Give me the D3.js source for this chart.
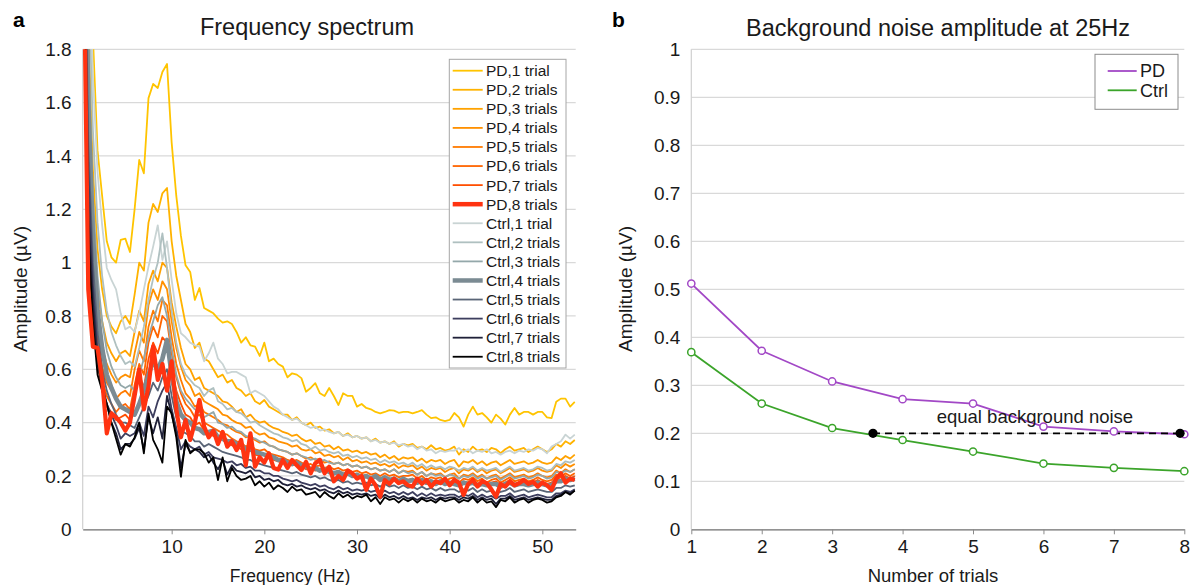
<!DOCTYPE html>
<html><head><meta charset="utf-8">
<script src="https://cdn.jsdelivr.net/npm/d3@7"></script>
<style>
html,body{margin:0;padding:0;background:#fff;}
svg{display:block;font-family:"Liberation Sans",Arial,Helvetica,sans-serif;}
</style></head>
<body>
<svg id="chart" width="1197" height="585"></svg>
<script>
// ---------- Panel a data: frequency spectrum ----------
const freqs = [0.5,1,1.5,2,2.5,3,3.5,4,4.5,5,5.5,6,6.5,7,7.5,8,8.5,9,9.5,10,
10.5,11,11.5,12,12.5,13,13.5,14,14.5,15,15.5,16,16.5,17,17.5,18,18.5,19,19.5,20,
20.5,21,21.5,22,22.5,23,23.5,24,24.5,25,25.5,26,26.5,27,27.5,28,28.5,29,29.5,30,
30.5,31,31.5,32,32.5,33,33.5,34,34.5,35,35.5,36,36.5,37,37.5,38,38.5,39,39.5,40,
40.5,41,41.5,42,42.5,43,43.5,44,44.5,45,45.5,46,46.5,47,47.5,48,48.5,49,49.5,50,
50.5,51,51.5,52,52.5,53,53.5];

const pd1 = [3.0,2.4,1.85,1.42,1.25,1.08,1.02,1.0,1.085,1.09,
1.04,1.2,1.385,1.335,1.617,1.67,1.655,1.715,1.745,1.45,
1.25,1.1,0.99,0.965,0.86,0.905,0.83,0.82,0.81,0.79,
0.775,0.78,0.77,0.74,0.70,0.72,0.69,0.685,0.65,0.70,
0.63,0.64,0.62,0.61,0.57,0.585,0.58,0.567,0.516,0.53,
0.548,0.51,0.50,0.53,0.50,0.466,0.51,0.50,0.5,0.46,
0.47,0.455,0.45,0.44,0.435,0.44,0.447,0.445,0.437,0.44,
0.44,0.435,0.44,0.447,0.43,0.417,0.42,0.41,0.406,0.41,
0.436,0.42,0.385,0.43,0.46,0.43,0.436,0.42,0.40,0.43,
0.415,0.393,0.43,0.455,0.43,0.44,0.44,0.43,0.44,0.44,
0.42,0.417,0.478,0.49,0.49,0.46,0.478];
const pd2 = [2.8,1.9,1.35,1.05,0.9,0.8,0.76,0.735,0.78,0.80,
0.77,0.88,1.0,0.97,1.15,1.22,1.19,1.26,1.28,1.08,
0.95,0.86,0.77,0.74,0.68,0.70,0.64,0.63,0.60,0.57,
0.58,0.55,0.56,0.53,0.52,0.50,0.51,0.48,0.47,0.485,
0.46,0.45,0.44,0.43,0.43,0.41,0.42,0.40,0.39,0.40,
0.38,0.385,0.37,0.375,0.36,0.365,0.35,0.36,0.345,0.35,
0.34,0.345,0.33,0.34,0.325,0.33,0.32,0.33,0.31,0.32,
0.315,0.32,0.305,0.31,0.30,0.315,0.30,0.305,0.295,0.30,
0.31,0.28,0.30,0.29,0.31,0.295,0.30,0.29,0.305,0.30,
0.285,0.30,0.31,0.295,0.30,0.305,0.29,0.30,0.31,0.30,
0.29,0.30,0.32,0.31,0.33,0.32,0.335];
const pd3 = [2.6,1.6,1.15,0.9,0.78,0.7,0.66,0.63,0.66,0.67,
0.65,0.74,0.82,0.78,0.92,0.97,0.93,1.0,0.98,0.85,
0.76,0.68,0.62,0.60,0.56,0.57,0.53,0.52,0.51,0.50,
0.48,0.475,0.46,0.44,0.45,0.42,0.43,0.41,0.40,0.405,
0.39,0.38,0.375,0.365,0.36,0.35,0.355,0.34,0.33,0.335,
0.32,0.325,0.31,0.315,0.30,0.31,0.295,0.30,0.29,0.295,
0.285,0.29,0.28,0.285,0.27,0.28,0.265,0.275,0.26,0.27,
0.265,0.27,0.255,0.265,0.25,0.26,0.255,0.26,0.245,0.255,
0.26,0.235,0.255,0.25,0.26,0.245,0.255,0.24,0.25,0.255,
0.24,0.25,0.26,0.245,0.25,0.255,0.245,0.25,0.26,0.25,
0.245,0.25,0.27,0.26,0.275,0.265,0.28];
const pd4 = [2.5,1.45,1.02,0.8,0.68,0.62,0.58,0.55,0.57,0.58,
0.57,0.66,0.74,0.70,0.84,0.90,0.86,0.93,0.90,0.78,
0.68,0.61,0.56,0.54,0.50,0.51,0.48,0.47,0.46,0.45,
0.43,0.425,0.41,0.40,0.395,0.38,0.385,0.365,0.355,0.36,
0.345,0.34,0.33,0.325,0.32,0.31,0.315,0.30,0.295,0.30,
0.285,0.29,0.275,0.28,0.27,0.275,0.26,0.27,0.255,0.26,
0.25,0.255,0.245,0.25,0.24,0.245,0.235,0.245,0.23,0.24,
0.235,0.24,0.225,0.235,0.22,0.23,0.225,0.23,0.215,0.225,
0.23,0.21,0.225,0.22,0.23,0.215,0.225,0.21,0.22,0.225,
0.21,0.22,0.23,0.215,0.22,0.225,0.215,0.22,0.23,0.22,
0.215,0.22,0.24,0.23,0.245,0.235,0.245];
const pd5 = [2.4,1.3,0.92,0.72,0.61,0.55,0.52,0.49,0.51,0.52,
0.50,0.60,0.67,0.63,0.76,0.82,0.78,0.86,0.84,0.72,
0.62,0.56,0.51,0.49,0.46,0.47,0.44,0.43,0.42,0.41,
0.395,0.39,0.375,0.365,0.36,0.345,0.35,0.335,0.325,0.33,
0.315,0.31,0.30,0.295,0.29,0.28,0.285,0.275,0.265,0.27,
0.26,0.265,0.25,0.255,0.245,0.25,0.24,0.245,0.235,0.24,
0.23,0.235,0.225,0.23,0.22,0.225,0.215,0.225,0.21,0.22,
0.215,0.22,0.205,0.215,0.20,0.21,0.205,0.21,0.195,0.205,
0.21,0.19,0.205,0.20,0.21,0.195,0.205,0.19,0.20,0.205,
0.19,0.20,0.21,0.195,0.20,0.205,0.195,0.20,0.21,0.20,
0.195,0.20,0.22,0.21,0.225,0.215,0.225];
const pd6 = [2.3,1.2,0.85,0.66,0.56,0.50,0.47,0.44,0.46,0.47,
0.45,0.54,0.62,0.58,0.70,0.76,0.72,0.80,0.78,0.66,
0.57,0.51,0.47,0.45,0.42,0.43,0.40,0.39,0.38,0.37,
0.36,0.355,0.34,0.33,0.325,0.31,0.32,0.30,0.295,0.30,
0.285,0.28,0.275,0.27,0.26,0.255,0.26,0.25,0.24,0.245,
0.235,0.24,0.23,0.235,0.225,0.23,0.22,0.225,0.215,0.22,
0.21,0.215,0.205,0.21,0.20,0.21,0.20,0.205,0.195,0.20,
0.20,0.205,0.19,0.20,0.185,0.195,0.19,0.195,0.18,0.19,
0.195,0.175,0.19,0.185,0.195,0.18,0.19,0.175,0.185,0.19,
0.175,0.185,0.195,0.18,0.185,0.19,0.18,0.185,0.195,0.185,
0.18,0.185,0.205,0.195,0.21,0.2,0.21];
const pd7 = [2.2,1.1,0.78,0.62,0.52,0.46,0.44,0.41,0.42,0.43,
0.41,0.50,0.58,0.53,0.64,0.70,0.66,0.72,0.70,0.60,
0.52,0.47,0.43,0.42,0.39,0.40,0.37,0.36,0.35,0.345,
0.335,0.33,0.315,0.31,0.30,0.29,0.295,0.28,0.275,0.28,
0.265,0.26,0.255,0.25,0.245,0.24,0.245,0.235,0.225,0.23,
0.22,0.225,0.215,0.22,0.21,0.215,0.205,0.21,0.20,0.205,
0.195,0.20,0.19,0.195,0.185,0.195,0.185,0.19,0.18,0.19,
0.185,0.19,0.175,0.185,0.17,0.18,0.175,0.18,0.17,0.175,
0.18,0.165,0.18,0.175,0.185,0.17,0.18,0.165,0.175,0.18,
0.165,0.175,0.185,0.17,0.175,0.18,0.17,0.175,0.185,0.175,
0.17,0.175,0.195,0.185,0.2,0.19,0.2];
const pd8 = [2.2,0.9,0.685,0.68,0.56,0.36,0.435,0.42,0.40,0.37,
0.40,0.50,0.60,0.45,0.535,0.685,0.56,0.62,0.52,0.63,
0.45,0.345,0.41,0.335,0.40,0.485,0.385,0.345,0.37,0.32,
0.365,0.31,0.33,0.297,0.335,0.24,0.36,0.235,0.27,0.25,
0.285,0.23,0.224,0.26,0.23,0.26,0.24,0.222,0.253,0.21,
0.248,0.26,0.21,0.235,0.18,0.20,0.185,0.22,0.21,0.19,
0.20,0.148,0.19,0.165,0.122,0.185,0.17,0.19,0.173,0.18,
0.165,0.16,0.19,0.17,0.185,0.16,0.18,0.173,0.19,0.165,
0.185,0.175,0.129,0.17,0.185,0.16,0.18,0.173,0.15,0.122,
0.17,0.16,0.18,0.165,0.173,0.185,0.17,0.178,0.16,0.175,
0.165,0.148,0.19,0.21,0.175,0.19,0.185];

const ctrl1 = [3.0,2.3,1.7,1.34,1.14,0.98,0.935,0.9,0.81,0.75,
0.76,0.74,0.81,0.9,0.985,1.06,1.14,1.01,1.08,0.935,
0.81,0.735,0.72,0.70,0.69,0.685,0.63,0.66,0.70,0.64,
0.62,0.585,0.59,0.59,0.58,0.57,0.51,0.52,0.51,0.50,
0.48,0.46,0.45,0.43,0.42,0.41,0.415,0.40,0.39,0.38,
0.385,0.37,0.375,0.365,0.36,0.365,0.35,0.355,0.345,0.35,
0.34,0.345,0.33,0.335,0.325,0.33,0.32,0.325,0.315,0.32,
0.31,0.315,0.30,0.31,0.295,0.30,0.285,0.295,0.29,0.295,
0.295,0.305,0.29,0.30,0.285,0.295,0.29,0.30,0.285,0.29,
0.28,0.29,0.295,0.285,0.295,0.29,0.30,0.295,0.305,0.30,
0.285,0.31,0.32,0.33,0.355,0.34,0.355];
const ctrl2 = [2.9,2.1,1.5,1.15,0.95,0.82,0.74,0.69,0.65,0.62,
0.63,0.61,0.68,0.76,0.86,0.94,1.0,1.11,0.98,0.82,
0.70,0.62,0.58,0.56,0.54,0.53,0.50,0.52,0.53,0.48,
0.47,0.45,0.455,0.44,0.435,0.42,0.40,0.405,0.39,0.38,
0.37,0.36,0.355,0.345,0.34,0.33,0.335,0.32,0.315,0.30,
0.31,0.295,0.30,0.29,0.285,0.29,0.275,0.28,0.27,0.275,
0.265,0.27,0.26,0.265,0.25,0.26,0.25,0.255,0.245,0.25,
0.24,0.25,0.235,0.245,0.23,0.24,0.23,0.235,0.225,0.235,
0.23,0.22,0.23,0.225,0.235,0.22,0.23,0.22,0.225,0.23,
0.215,0.225,0.235,0.22,0.225,0.23,0.22,0.225,0.235,0.23,
0.22,0.225,0.245,0.24,0.255,0.25,0.26];
const ctrl3 = [2.8,1.8,1.25,0.95,0.78,0.67,0.61,0.57,0.54,0.53,
0.54,0.52,0.58,0.64,0.72,0.78,0.84,0.87,0.80,0.68,
0.58,0.52,0.49,0.47,0.45,0.44,0.42,0.43,0.44,0.40,
0.395,0.38,0.385,0.37,0.365,0.35,0.345,0.34,0.33,0.325,
0.315,0.31,0.30,0.295,0.29,0.28,0.285,0.275,0.27,0.26,
0.265,0.255,0.26,0.25,0.245,0.25,0.24,0.245,0.235,0.24,
0.23,0.235,0.225,0.23,0.22,0.225,0.215,0.225,0.21,0.22,
0.21,0.215,0.205,0.215,0.20,0.21,0.20,0.205,0.195,0.205,
0.20,0.19,0.20,0.195,0.205,0.19,0.20,0.19,0.195,0.20,
0.185,0.195,0.205,0.19,0.195,0.20,0.19,0.195,0.205,0.20,
0.19,0.195,0.215,0.21,0.22,0.215,0.225];
const ctrl4 = [2.7,1.6,1.1,0.82,0.68,0.58,0.53,0.49,0.46,0.45,
0.44,0.43,0.47,0.52,0.58,0.63,0.60,0.64,0.71,0.58,
0.48,0.43,0.41,0.40,0.38,0.375,0.36,0.365,0.37,0.345,
0.34,0.33,0.33,0.32,0.315,0.30,0.30,0.29,0.285,0.28,
0.275,0.27,0.26,0.26,0.25,0.245,0.25,0.24,0.235,0.225,
0.23,0.22,0.225,0.215,0.21,0.215,0.205,0.21,0.20,0.205,
0.195,0.20,0.19,0.20,0.185,0.195,0.185,0.19,0.18,0.19,
0.18,0.185,0.175,0.185,0.175,0.18,0.17,0.18,0.17,0.175,
0.17,0.165,0.175,0.17,0.175,0.165,0.17,0.165,0.17,0.17,
0.16,0.17,0.175,0.165,0.17,0.17,0.165,0.17,0.175,0.17,
0.165,0.165,0.18,0.18,0.19,0.185,0.19];
const ctrl5 = [2.6,1.45,1.0,0.74,0.6,0.52,0.47,0.43,0.40,0.40,
0.39,0.38,0.42,0.46,0.50,0.55,0.52,0.57,0.60,0.50,
0.42,0.37,0.36,0.35,0.33,0.33,0.31,0.32,0.31,0.30,
0.29,0.285,0.28,0.275,0.27,0.26,0.26,0.25,0.245,0.24,
0.235,0.23,0.225,0.22,0.215,0.21,0.215,0.205,0.20,0.195,
0.20,0.19,0.195,0.185,0.18,0.185,0.175,0.18,0.17,0.175,
0.17,0.175,0.165,0.17,0.16,0.17,0.16,0.165,0.155,0.165,
0.155,0.16,0.15,0.16,0.15,0.155,0.145,0.155,0.145,0.15,
0.15,0.14,0.15,0.145,0.155,0.14,0.15,0.14,0.145,0.135,
0.14,0.145,0.155,0.14,0.145,0.15,0.14,0.145,0.15,0.145,
0.14,0.14,0.155,0.155,0.165,0.16,0.165];
const ctrl6 = [2.5,1.35,0.92,0.67,0.55,0.47,0.43,0.39,0.34,0.36,
0.35,0.36,0.40,0.35,0.46,0.42,0.48,0.52,0.55,0.45,
0.38,0.30,0.33,0.31,0.30,0.31,0.28,0.29,0.27,0.265,
0.26,0.25,0.255,0.24,0.245,0.23,0.235,0.22,0.22,0.21,
0.21,0.20,0.20,0.19,0.185,0.18,0.185,0.175,0.17,0.165,
0.17,0.16,0.165,0.155,0.15,0.16,0.15,0.155,0.145,0.15,
0.145,0.15,0.14,0.145,0.135,0.145,0.135,0.14,0.13,0.14,
0.13,0.14,0.125,0.135,0.125,0.135,0.125,0.13,0.125,0.13,
0.13,0.12,0.13,0.125,0.135,0.12,0.13,0.12,0.125,0.115,
0.125,0.125,0.135,0.12,0.125,0.13,0.12,0.125,0.13,0.125,
0.12,0.12,0.135,0.135,0.145,0.14,0.15];
const ctrl7 = [2.4,1.2,0.85,0.62,0.53,0.47,0.40,0.36,0.30,0.32,
0.32,0.34,0.38,0.30,0.42,0.36,0.42,0.34,0.50,0.43,
0.36,0.23,0.32,0.29,0.30,0.29,0.27,0.28,0.25,0.225,
0.26,0.205,0.24,0.22,0.215,0.21,0.22,0.195,0.20,0.185,
0.19,0.18,0.185,0.17,0.165,0.17,0.16,0.165,0.155,0.15,
0.155,0.145,0.15,0.14,0.135,0.145,0.135,0.14,0.13,0.135,
0.13,0.135,0.125,0.13,0.115,0.13,0.12,0.125,0.115,0.125,
0.115,0.12,0.11,0.12,0.115,0.12,0.11,0.12,0.115,0.12,
0.12,0.11,0.12,0.115,0.125,0.11,0.12,0.11,0.115,0.095,
0.115,0.115,0.125,0.11,0.115,0.12,0.11,0.115,0.12,0.115,
0.11,0.11,0.125,0.13,0.14,0.135,0.145];
const ctrl8 = [2.3,1.1,0.78,0.58,0.52,0.47,0.40,0.34,0.28,0.32,
0.31,0.345,0.40,0.285,0.435,0.335,0.30,0.25,0.46,0.435,
0.345,0.197,0.335,0.285,0.30,0.30,0.285,0.25,0.27,0.185,
0.27,0.18,0.23,0.20,0.185,0.19,0.20,0.165,0.18,0.16,
0.175,0.15,0.165,0.155,0.14,0.16,0.145,0.15,0.13,0.135,
0.14,0.12,0.14,0.125,0.115,0.135,0.12,0.13,0.115,0.125,
0.12,0.13,0.105,0.12,0.095,0.12,0.11,0.115,0.10,0.115,
0.105,0.115,0.10,0.115,0.105,0.11,0.10,0.115,0.105,0.11,
0.115,0.10,0.11,0.105,0.12,0.10,0.115,0.10,0.105,0.083,
0.11,0.105,0.12,0.10,0.11,0.115,0.10,0.11,0.115,0.11,
0.10,0.105,0.12,0.125,0.14,0.13,0.145];

const seriesNames = ["PD,1 trial","PD,2 trials","PD,3 trials","PD,4 trials","PD,5 trials","PD,6 trials","PD,7 trials","PD,8 trials",
  "Ctrl,1 trial","Ctrl,2 trials","Ctrl,3 trials","Ctrl,4 trials","Ctrl,5 trials","Ctrl,6 trials","Ctrl,7 trials","Ctrl,8 trials"];
const seriesValues = [pd1,pd2,pd3,pd4,pd5,pd6,pd7,pd8,ctrl1,ctrl2,ctrl3,ctrl4,ctrl5,ctrl6,ctrl7,ctrl8];
const seriesColors = ["#FFC400","#FFB300","#FFA200","#FF9000","#FF7B00","#FF6500","#FF4E00","#FF3311",
  "#C9D4D4","#AFC0C0","#94A8AA","#7B8B93","#5A6577","#3D3E5E","#1F2038","#000000"];
const seriesWidths = [1.8,1.8,1.8,1.8,1.8,1.8,1.8,4.2,1.8,1.8,1.8,4.6,1.8,1.8,1.8,1.8];
const drawOrder = [0,1,2,3,4,5,6,8,9,10,11,12,13,14,15,7];
const aYTicks = [0,0.2,0.4,0.6,0.8,1,1.2,1.4,1.6,1.8];
const aXTicks = [10,20,30,40,50];

// ---------- Panel b data: noise at 25Hz ----------
const trials = [1,2,3,4,5,6,7,8];
const noisePD = [0.512,0.372,0.308,0.271,0.262,0.214,0.204,0.198];
const noiseCtrl = [0.369,0.262,0.211,0.186,0.162,0.137,0.128,0.121];
const equalX = [3.58,7.94];
const equalY = [0.2,0.2];
const bYTicks = [0,0.1,0.2,0.3,0.4,0.5,0.6,0.7,0.8,0.9,1];

// ---------- drawing ----------
const svg = d3.select("#chart");
const fmt = d => String(+d.toFixed(1));
const fmtInt = d3.format("d");
const GRID = "#d9d9d9";
const TICK_FS = 19;

function panelFrame(g, x, y, yTicks, xTicks, xFmt, left, right, top, bottom) {
  g.append("g").selectAll("line").data(yTicks.filter(t => t > 0)).join("line")
    .attr("x1", left).attr("x2", right)
    .attr("y1", d => y(d)).attr("y2", d => y(d))
    .attr("stroke", GRID).attr("stroke-width", 1.2);
  g.append("line").attr("x1", left).attr("x2", left).attr("y1", top).attr("y2", bottom)
    .attr("stroke", "#d0d0d0").attr("stroke-width", 1.2);
  const ya = g.append("g").attr("transform", `translate(${left},0)`)
    .call(d3.axisLeft(y).tickValues(yTicks).tickFormat(fmt).tickSize(0).tickPadding(11));
  ya.select(".domain").remove();
  ya.selectAll("text").attr("font-size", TICK_FS).attr("fill", "#1a1a1a").attr("font-family", null);
  const xa = g.append("g").attr("transform", `translate(0,${bottom})`)
    .call(d3.axisBottom(x).tickValues(xTicks).tickFormat(xFmt).tickSize(5).tickSizeOuter(0));
  xa.select(".domain").attr("stroke", "#6e6e6e").attr("stroke-width", 1.3);
  xa.selectAll(".tick line").attr("stroke", "#8c8c8c").attr("stroke-width", 1);
  xa.selectAll("text").attr("font-size", TICK_FS).attr("fill", "#1a1a1a").attr("font-family", null)
    .attr("y", 24).attr("dy", 0);
}

// Panel a
const aL = 82.7, aR = 575.7, aT = 49.3, aB = 529.3;
const xa = d3.scaleLinear().domain([0.4, 53.6]).range([aL, aR]);
const ya = d3.scaleLinear().domain([0, 1.8]).range([aB, aT]);
const gA = svg.append("g");
panelFrame(gA, xa, ya, aYTicks, aXTicks, fmtInt, aL, aR, aT, aB);

svg.append("defs").append("clipPath").attr("id", "clipA")
  .append("rect").attr("x", aL).attr("y", aT).attr("width", aR - aL).attr("height", aB - aT);

const lineA = d3.line().x((d, i) => xa(freqs[i])).y(d => ya(d));
const linesG = gA.append("g").attr("clip-path", "url(#clipA)");
drawOrder.forEach(si => {
  linesG.append("path").datum(seriesValues[si])
    .attr("d", lineA).attr("fill", "none")
    .attr("stroke", seriesColors[si]).attr("stroke-width", seriesWidths[si])
    .attr("stroke-linejoin", "round");
});

// legend a
const lgA = gA.append("g");
lgA.append("rect").attr("x", 449.3).attr("y", 59.3).attr("width", 116.7).attr("height", 308.7)
  .attr("fill", "#fff").attr("stroke", "#a6a6a6").attr("stroke-width", 1);
seriesNames.forEach((n, i) => {
  const yy = 70.7 + i * 19.07;
  lgA.append("line").attr("x1", 452.7).attr("x2", 482.7).attr("y1", yy).attr("y2", yy)
    .attr("stroke", seriesColors[i]).attr("stroke-width", seriesWidths[i] > 3 ? 4.5 : 1.8);
  lgA.append("text").attr("x", 486).attr("y", yy).attr("dy", "0.35em")
    .attr("font-size", 15.5).attr("fill", "#1a1a1a").text(n);
});

gA.append("text").attr("x", 307).attr("y", 35).attr("text-anchor", "middle")
  .attr("font-size", 23.5).attr("fill", "#1a1a1a").text("Frequency spectrum");
gA.append("text").attr("x", 13).attr("y", 27).attr("font-size", 21).attr("font-weight", "bold")
  .attr("fill", "#000").text("a");
gA.append("text").attr("transform", "translate(27,289) rotate(-90)").attr("text-anchor", "middle")
  .attr("font-size", 19).attr("fill", "#1a1a1a").text("Amplitude (µV)");
gA.append("text").attr("x", 290).attr("y", 582).attr("text-anchor", "middle")
  .attr("font-size", 17.5).attr("fill", "#1a1a1a").text("Frequency (Hz)");

// Panel b
const bL = 691.3, bR = 1184.3, bT = 49.3, bB = 529.3;
const xb = d3.scaleLinear().domain([1, 8]).range([bL, bR]);
const yb = d3.scaleLinear().domain([0, 1]).range([bB, bT]);
const gB = svg.append("g");
panelFrame(gB, xb, yb, bYTicks, trials, fmtInt, bL, bR, bT, bB);

const lineB = d3.line().x((d, i) => xb(trials[i])).y(d => yb(d));
const PURPLE = "#A248C6", GREEN = "#3BA42A";
[[noiseCtrl, GREEN], [noisePD, PURPLE]].forEach(([vals, col]) => {
  gB.append("path").datum(vals).attr("d", lineB).attr("fill", "none")
    .attr("stroke", col).attr("stroke-width", 1.8);
});
gB.append("line").attr("x1", xb(equalX[0])).attr("x2", xb(equalX[1]))
  .attr("y1", yb(equalY[0])).attr("y2", yb(equalY[1]))
  .attr("stroke", "#000").attr("stroke-width", 1.8).attr("stroke-dasharray", "7,5");
[[noiseCtrl, GREEN], [noisePD, PURPLE]].forEach(([vals, col]) => {
  gB.append("g").selectAll("circle").data(vals).join("circle")
    .attr("cx", (d, i) => xb(trials[i])).attr("cy", d => yb(d)).attr("r", 3.6)
    .attr("fill", "#fff").attr("stroke", col).attr("stroke-width", 1.5);
});
gB.append("g").selectAll("circle").data(equalX).join("circle")
  .attr("cx", d => xb(d)).attr("cy", (d, i) => yb(equalY[i])).attr("r", 4.6).attr("fill", "#000");
gB.append("text").attr("x", 936.7).attr("y", 423).attr("font-size", 18.5).attr("fill", "#1a1a1a")
  .text("equal background noise");

// legend b
gB.append("rect").attr("x", 1095).attr("y", 54.3).attr("width", 83).attr("height", 55)
  .attr("fill", "#fff").attr("stroke", "#8c8c8c").attr("stroke-width", 1);
[["PD", PURPLE, 71], ["Ctrl", GREEN, 90.3]].forEach(([t, c, yy]) => {
  gB.append("line").attr("x1", 1107.7).attr("x2", 1136.7).attr("y1", yy).attr("y2", yy)
    .attr("stroke", c).attr("stroke-width", 1.8);
  gB.append("text").attr("x", 1140).attr("y", yy).attr("dy", "0.36em").attr("font-size", 18)
    .attr("fill", "#1a1a1a").text(t);
});

gB.append("text").attr("x", 938).attr("y", 36).attr("text-anchor", "middle")
  .attr("font-size", 23.5).attr("fill", "#1a1a1a").text("Background noise amplitude at 25Hz");
gB.append("text").attr("x", 612).attr("y", 27).attr("font-size", 21).attr("font-weight", "bold")
  .attr("fill", "#000").text("b");
gB.append("text").attr("transform", "translate(632,289) rotate(-90)").attr("text-anchor", "middle")
  .attr("font-size", 19).attr("fill", "#1a1a1a").text("Amplitude (µV)");
gB.append("text").attr("x", 933).attr("y", 582).attr("text-anchor", "middle")
  .attr("font-size", 18.5).attr("fill", "#1a1a1a").text("Number of trials");
</script>
</body></html>
